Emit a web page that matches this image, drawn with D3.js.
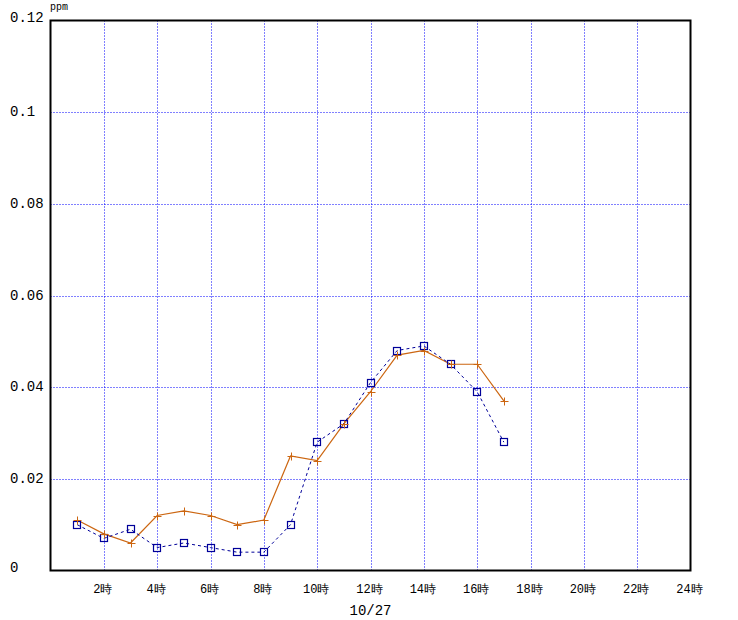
<!DOCTYPE html>
<html><head><meta charset="utf-8">
<script src="https://cdn.jsdelivr.net/npm/d3@7"></script>
<style>body{margin:0;background:#fff}</style>
</head><body>
<svg id="c" width="738" height="620"></svg>
<script>
const hours = [1,2,3,4,5,6,7,8,9,10,11,12,13,14,15,16,17];
const seriesOrange = [0.011,0.008,0.006,0.012,0.013,0.012,0.010,0.011,0.025,0.024,0.032,0.039,0.047,0.048,0.045,0.045,0.037];
const seriesBlue = [0.010,0.007,0.009,0.005,0.006,0.005,0.004,0.004,0.010,0.028,0.032,0.041,0.048,0.049,0.045,0.039,0.028];
const xTicks = [2,4,6,8,10,12,14,16,18,20,22,24];
const xTickLabels = xTicks.map(h => h + "時");
const yTicks = [0,0.02,0.04,0.06,0.08,0.1,0.12];
const yTickLabels = ["0","0.02","0.04","0.06","0.08","0.1","0.12"];
const dateLabel = "10/27";
const unitLabel = "ppm";

const L=50.5, R=690.5, T=20.5, B=570.5;
const svg = d3.select("#c");
const x = d3.scaleLinear().domain([0,24]).range([L,R]);
const y = d3.scaleLinear().domain([0,0.12]).range([B,T]);

// grid
const g = svg.append("g");
g.selectAll("line.v").data(xTicks.filter(h=>h<24)).join("line")
  .attr("x1",d=>Math.round(x(d))+0.5).attr("x2",d=>Math.round(x(d))+0.5)
  .attr("y1",T).attr("y2",B)
  .attr("stroke","#0000ff").attr("stroke-width",1).attr("stroke-dasharray","1,2");
g.selectAll("line.h").data(yTicks.filter(v=>v>0&&v<0.12)).join("line")
  .attr("y1",d=>Math.round(y(d))+0.5).attr("y2",d=>Math.round(y(d))+0.5)
  .attr("x1",L).attr("x2",R)
  .attr("stroke","#0000ff").attr("stroke-width",1).attr("stroke-dasharray","1,2");

// frame
svg.append("rect").attr("x",L).attr("y",T).attr("width",R-L).attr("height",B-T)
  .attr("fill","none").attr("stroke","#000").attr("stroke-width",2);

// y labels
svg.selectAll("text.yl").data(yTicks).join("text")
  .attr("x",10).attr("y",d=>(d===0||d===0.12)? y(d)+1 : y(d)+4)
  .attr("font-family","Liberation Mono").attr("font-size",14).attr("fill","#000")
  .text((d,i)=>yTickLabels[i]);

// x labels
svg.selectAll("text.xl").data(xTicks).join("text")
  .attr("x",d=>x(d)-1).attr("y",593).attr("text-anchor","middle")
  .attr("font-family","Liberation Mono").attr("font-size",12).attr("fill","#000")
  .text((d,i)=>xTickLabels[i]);

svg.append("text").attr("x",x(12)).attr("y",615).attr("text-anchor","middle")
  .attr("font-family","Liberation Mono").attr("font-size",14).text(dateLabel);
svg.append("text").attr("x",50).attr("y",10)
  .attr("font-family","Liberation Mono").attr("font-size",10).text(unitLabel);

// lines
const line = d3.line().x((d,i)=>x(hours[i])).y(d=>y(d));
const orange="#cc6611", blue="#000099";
svg.append("path").datum(seriesOrange).attr("d",line).attr("fill","none")
  .attr("stroke",orange).attr("stroke-width",1.2);
svg.append("path").datum(seriesBlue).attr("d",line).attr("fill","none")
  .attr("stroke",blue).attr("stroke-width",1).attr("stroke-dasharray","3,3");

// markers
svg.selectAll("rect.m").data(seriesBlue).join("rect")
  .attr("x",(d,i)=>Math.round(x(hours[i]))-3.5).attr("y",d=>Math.round(y(d))-3.5)
  .attr("width",7).attr("height",7).attr("fill","none").attr("stroke",blue).attr("stroke-width",1.2);
const pl = svg.append("g");
seriesOrange.forEach((d,i)=>{
  const cx=Math.round(x(hours[i]))+0.5, cy=Math.round(y(d))+0.5;
  pl.append("line").attr("x1",cx-4).attr("x2",cx+4).attr("y1",cy).attr("y2",cy).attr("stroke",orange);
  pl.append("line").attr("x1",cx).attr("x2",cx).attr("y1",cy-4).attr("y2",cy+4).attr("stroke",orange);
});
</script>
</body></html>
